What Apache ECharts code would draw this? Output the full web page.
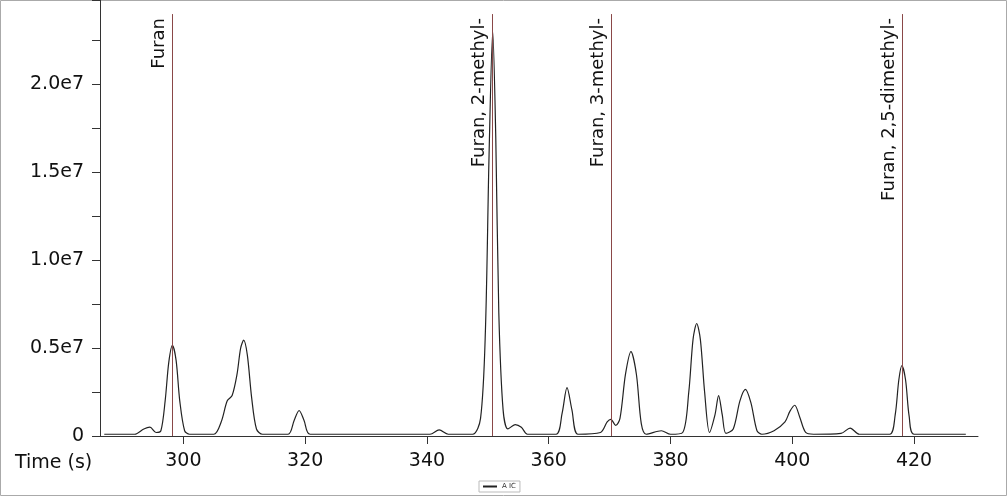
<!DOCTYPE html>
<html><head><meta charset="utf-8">
<script src="https://cdn.jsdelivr.net/npm/echarts@6/dist/echarts.min.js"></script>
<style>html,body{margin:0;padding:0;background:#fff}#c{width:1008px;height:497px}</style>
</head><body><div id="c"></div>
<script>
// Time (s) and intensity pairs
const times = [287,292,293.5,294.5,295.5,296.3,297,297.6,298.2,298.8,299.4,300.2,301,305,306.2,307.2,308,308.8,309.4,309.9,310.5,311.2,312,313,317.2,318.2,319,319.8,320.8,340.5,342,343.5,347.5,348.8,349.6,350.2,350.8,351.3,351.8,352.5,353.3,354.5,355.5,356.5,361.2,362.2,363,363.8,364.8,368.5,369.6,370.2,371,371.7,372.6,373.5,374.4,375.2,376,378.5,380,382,383,383.7,384.3,384.9,385.6,386.4,387.3,387.9,388.5,389.1,390.3,391.4,392.3,393.2,394.2,395,397,398.8,399.6,400.4,401.2,402.2,403.5,408,409.5,411,416,416.9,417.5,418,418.6,419.2,420,428.5];
const intensityE6 = [0.1,0.1,0.4,0.5,0.2,0.3,2.0,4.2,5.15,4.3,2.0,0.3,0.1,0.1,0.8,2.0,2.3,3.5,5.0,5.45,4.6,2.2,0.4,0.1,0.1,0.9,1.45,0.9,0.1,0.1,0.35,0.1,0.1,1.0,6.0,16,23.0,17,7,1.5,0.4,0.65,0.5,0.1,0.1,1.3,2.75,1.5,0.1,0.2,0.8,0.95,0.6,1.0,3.5,4.8,3.5,0.7,0.1,0.3,0.1,0.2,2.5,5.5,6.4,5.5,2.5,0.2,1.2,2.3,1.2,0.15,0.4,2.0,2.65,1.9,0.3,0.1,0.3,0.8,1.4,1.75,1.1,0.2,0.1,0.15,0.45,0.1,0.1,1.2,3.2,4.0,3.2,1.1,0.1,0.1];
const markerNames = ["Furan","Furan, 2-methyl-","Furan, 3-methyl-","Furan, 2,5-dimethyl-"];
const markerTimes = [298.2,350.8,370.3,418.0];
const xTicks = [300,320,340,360,380,400,420];
const yLabelValues = [0,0.5e7,1.0e7,1.5e7,2.0e7];

const data = times.map((t,i)=>[t,intensityE6[i]*1e6]);
const chart = echarts.init(document.getElementById('c'));
const font = "DejaVu Sans";
chart.setOption({
  animation:false,
  backgroundColor:'#fff',
  grid:{left:100,right:30,top:0,bottom:61},
  legend:{left:479,top:481,itemWidth:14,itemHeight:2,itemGap:2,padding:[2,4],
    borderColor:'#bbb',borderWidth:1,textStyle:{fontSize:7,color:'#333',fontFamily:font},
    data:[{name:'A IC',icon:'rect'}]},
  xAxis:{type:'value',min:286.3,max:430.5,offset:4,
    axisLine:{lineStyle:{color:'#333'}},
    axisTick:{customValues:xTicks,length:8,lineStyle:{color:'#333'}},
    axisLabel:{customValues:xTicks,fontSize:19,color:'#111',fontFamily:font,margin:12},
    splitLine:{show:false}},
  yAxis:{type:'value',min:0,max:2.48e7,interval:0.25e7,
    axisLine:{show:true,lineStyle:{color:'#333'}},
    axisTick:{show:true,length:8,lineStyle:{color:'#333'}},
    axisLabel:{customValues:yLabelValues,fontSize:19,color:'#111',fontFamily:font,margin:16,
      formatter:v=>v===0?'0':(v/1e7).toFixed(1)+'e7'},
    splitLine:{show:false}},
  graphic:[
    {type:'text',left:15,top:454,style:{text:'Time (s)',fontSize:19,fill:'#111',fontFamily:font}},
    {type:'rect',shape:{x:0.5,y:0.5,width:1006,height:495},style:{fill:null,stroke:'#aaa',lineWidth:1},silent:true}
  ],
  series:[{
    name:'A IC',type:'line',data:data,smooth:0.3,symbol:'none',
    lineStyle:{color:'#222',width:1.2},itemStyle:{color:'#222'},z:3
  },{
    name:'markers',type:'line',data:[],symbol:'none',z:2,
    markLine:{symbol:['none','none'],silent:true,animation:false,
      lineStyle:{color:'#8a4848',width:1,type:'solid'},
      label:{show:true,position:'insideEndTop',distance:4,fontSize:18,color:'#111',fontFamily:font,formatter:'{b}'},
      data:markerTimes.map((t,i)=>[{name:markerNames[i],coord:[t,0],lineStyle:{color:'#8a4848'}},{coord:[t,2.40e7]}])}
  }]
});
</script></body></html>
